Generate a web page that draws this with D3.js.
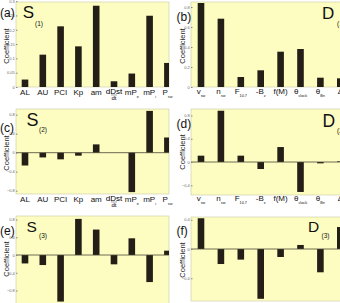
<!DOCTYPE html>
<html lang="en">
<head>
<meta charset="UTF-8">
<title>Coefficients</title>
<script src="https://d3js.org/d3.v7.min.js"></script>
<style>
  body { margin: 0; background: #fff; }
  svg { display: block; font-family: "Liberation Sans", Arial, sans-serif; }
</style>
</head>
<body>
<svg width="340" height="303"></svg>
<script>
// categories (main text, subscript)
var sCats = ["AL", "AU", "PCI", "Kp", "am", "dDst/dt", "mPe", "mPi", "Psw"];
var sLabels = [["AL", ""], ["AU", ""], ["PCI", ""], ["Kp", ""], ["am", ""], ["dDst", "dt"], ["mP", "e"], ["mP", "i"], ["P", "sw"]];
var dCats = ["vsw", "nsw", "F10.7", "-Bz", "f(M)", "thclock", "thBn", "delta"];
var dLabels = [["v", "sw"], ["n", "sw"], ["F", "10.7"], ["-B", "z"], ["f(M)", ""], ["\u03b8", "clock"], ["\u03b8", "Bn"], ["\u0394", ""]];

// coefficients
var sCoef1 = [0.026, 0.113, 0.212, 0.142, 0.284, 0.02, 0.047, 0.249, 0.084];
var dCoef1 = [0.84, 0.683, 0.10, 0.167, 0.353, 0.38, 0.093, 0.087];
var sCoef2 = [-0.27, -0.10, -0.14, -0.063, 0.175, 0.0, -0.83, 0.88, 0.32];
var dCoef2 = [0.109, 0.88, 0.109, -0.12, 0.257, -0.514, -0.023, 0.011];
var sCoef3 = [-0.19, -0.226, -1.05, 0.815, 0.574, -0.21, 0.377, -0.61, 0.098];
var dCoef3 = [0.42, -0.205, -0.145, -0.68, -0.109, 0.055, -0.318, 0.30];

// tick values
var ticksA = [0, 0.05, 0.1, 0.15, 0.2, 0.25, 0.3];
var ticksB = [0, 0.2, 0.4, 0.6, 0.8];
var ticksC = [-0.8, -0.4, 0, 0.4, 0.8];
var ticksD = [-0.4, 0, 0.4, 0.8];
var ticksE = [-0.8, -0.4, 0, 0.4, 0.8];
var ticksF = [-0.4, 0, 0.4];

var svg = d3.select("svg");
var barColor = "#241f16";
var bgColor = "#fdfdc2";

var panels = [
  {tag: "(a)", tx: 0, ty: 17, cats: sCats, labels: sLabels, vals: sCoef1, ticks: ticksA,
   x0: 16, x1: 169, y0: 2, y1: 87, dom: [0, 0.297], first: 25, step: 17.8, lab: 95,
   big: "S", sub: "(1)", bx: 22.7, by: 18.3, bs: 17, sx: 35, sy: 26, cy: 46},
  {tag: "(b)", tx: 176.5, ty: 21, cats: dCats, labels: dLabels, vals: dCoef1, ticks: ticksB,
   x0: 191, x1: 341, y0: 2, y1: 87, dom: [0, 0.85], first: 201, step: 19.9, lab: 94,
   big: "D", sub: "(1)", bx: 322, by: 19, bs: 17, sx: 337, sy: 26, cy: 46},
  {tag: "(c)", tx: 0, ty: 132, cats: sCats, labels: sLabels, vals: sCoef2, ticks: ticksC,
   x0: 16, x1: 169, y0: 109, y1: 194, dom: [-0.87, 0.92], first: 25, step: 17.8, lab: 202,
   big: "S", sub: "(2)", bx: 26.5, by: 126, bs: 18, sx: 39, sy: 132, cy: 153},
  {tag: "(d)", tx: 176.5, ty: 128, cats: dCats, labels: dLabels, vals: dCoef2, ticks: ticksD,
   x0: 191, x1: 341, y0: 109, y1: 195, dom: [-0.566, 0.91], first: 201, step: 19.9, lab: 201,
   big: "D", sub: "(2)", bx: 322.5, by: 127, bs: 17.5, sx: 337, sy: 133, cy: 152},
  {tag: "(e)", tx: 0, ty: 235, cats: sCats, labels: null, vals: sCoef3, ticks: ticksE,
   x0: 16, x1: 169, y0: 216, y1: 310, dom: [-1.24, 0.88], first: 25, step: 17.8, lab: 0,
   big: "S", sub: "(3)", bx: 26.5, by: 231.7, bs: 15.5, sx: 39, sy: 238, cy: 259},
  {tag: "(f)", tx: 176.5, ty: 235, cats: dCats, labels: null, vals: dCoef3, ticks: ticksF,
   x0: 191, x1: 341, y0: 217, y1: 301, dom: [-0.71, 0.437], first: 201, step: 19.9, lab: 0,
   big: "D", sub: "(3)", bx: 308, by: 231.7, bs: 15.5, sx: 321.5, sy: 238, cy: 260}
];

panels.forEach(function (p, k) {
  var n = p.cats.length;
  var pad = (p.first - p.x0) / p.step;
  var x = d3.scalePoint().domain(p.cats)
      .range([p.x0, p.x0 + p.step * (n - 1 + 2 * pad)]).padding(pad);
  var y = d3.scaleLinear().domain(p.dom).range([p.y1, p.y0]);
  var g = svg.append("g");

  g.append("clipPath").attr("id", "clip" + k)
    .append("rect").attr("x", p.x0).attr("y", p.y0).attr("width", p.x1 - p.x0).attr("height", p.y1 - p.y0);

  g.append("rect")
    .attr("x", p.x0).attr("y", p.y0).attr("width", p.x1 - p.x0).attr("height", p.y1 - p.y0)
    .attr("fill", bgColor).attr("stroke", "#c9c9a6").attr("stroke-width", 0.6);

  var plot = g.append("g").attr("clip-path", "url(#clip" + k + ")");
  var bw = 6.6;
  plot.selectAll("rect.bar").data(p.vals).enter()
    .append("rect").attr("class", "bar")
    .attr("x", function (d, i) { return x(p.cats[i]) - bw / 2; })
    .attr("y", function (d) { return y(Math.max(0, d)); })
    .attr("width", bw)
    .attr("height", function (d) { return Math.abs(y(d) - y(0)); })
    .attr("fill", barColor);

  if (p.dom[0] < 0) {
    plot.append("line")
      .attr("x1", p.x0).attr("x2", p.x1).attr("y1", y(0)).attr("y2", y(0))
      .attr("stroke", "#4a4636").attr("stroke-width", 0.8);
  }

  // y axis
  var axis = d3.axisLeft(y).tickValues(p.ticks).tickSize(-1.5).tickPadding(1.2).tickFormat(d3.format(""));
  var ag = g.append("g").attr("transform", "translate(" + p.x0 + ",0)").call(axis);
  ag.select(".domain").remove();
  ag.selectAll("line").attr("stroke", "#888");
  ag.selectAll("text").attr("font-size", 4).attr("fill", "#666").attr("font-family", "Liberation Sans, Arial");

  // category labels
  if (p.labels) {
    p.labels.forEach(function (l, i) {
      var cx = x(p.cats[i]);
      if (l[0] === "dDst") {
        g.append("text").attr("x", cx).attr("y", p.lab - 1).attr("text-anchor", "middle")
          .attr("font-size", 8).text("dDst");
        g.append("line").attr("x1", cx - 3).attr("x2", cx + 3).attr("y1", p.lab).attr("y2", p.lab)
          .attr("stroke", "#222").attr("stroke-width", 0.4);
        g.append("text").attr("x", cx).attr("y", p.lab + 5).attr("text-anchor", "middle")
          .attr("font-size", 6).text("dt");
        return;
      }
      var t = g.append("text").attr("x", cx).attr("y", p.lab).attr("text-anchor", "middle")
        .attr("font-size", 8).attr("fill", "#111");
      t.append("tspan").text(l[0]);
      if (l[1]) {
        t.append("tspan").attr("dy", 3.2).attr("font-size", 3.8).text(l[1]);
      }
    });
  }

  // big title letter with subscript
  g.append("text").attr("x", p.bx).attr("y", p.by).attr("font-size", p.bs).attr("fill", "#111").text(p.big);
  g.append("text").attr("x", p.sx).attr("y", p.sy).attr("font-size", 6.5).attr("fill", "#111").text(p.sub);

  // panel tag
  g.append("text").attr("x", p.tx).attr("y", p.ty).attr("font-size", 12).attr("fill", "#111").text(p.tag);

  // y label
  var lx = p.x0 < 100 ? 8.5 : 184.5;
  g.append("text").attr("transform", "translate(" + lx + "," + p.cy + ") rotate(-90)")
    .attr("text-anchor", "middle").attr("font-size", 7.5).attr("fill", "#222").text("Coefficient");
});
</script>
</body>
</html>
